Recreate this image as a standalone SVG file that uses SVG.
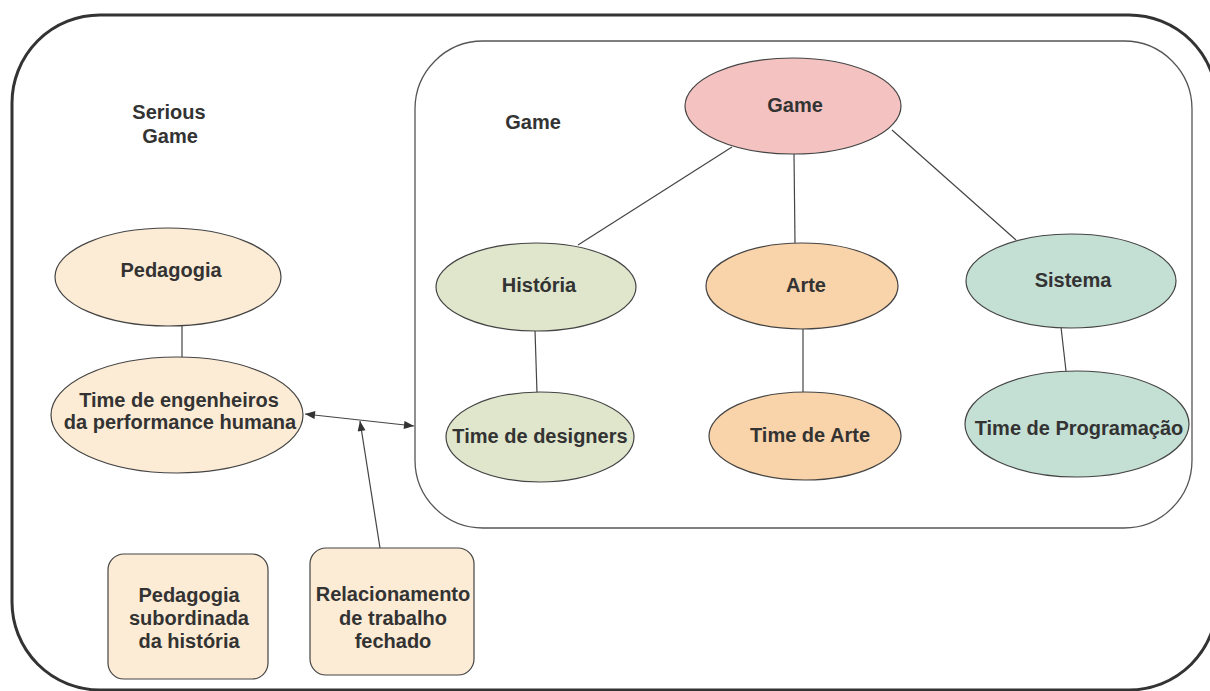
<svg xmlns="http://www.w3.org/2000/svg" width="1210" height="691" viewBox="0 0 1210 691">
  <style>
    .lbl { font-family: "Liberation Sans", Arial, sans-serif; font-size: 20px; font-weight: bold; fill: #333; text-anchor: middle; }
    .node { stroke: #444; stroke-width: 1.2; }
    .link { stroke: #444; stroke-width: 1.2; fill: none; }
    .pink { fill: #f4c3c1; }
    .sage { fill: #dfe6cc; }
    .apricot { fill: #f9d3a9; }
    .mint { fill: #c4dfd4; }
    .peach { fill: #fdecd5; }
  </style>
  <defs>
    <marker id="arrow" viewBox="0 0 10 8" refX="10" refY="4" markerWidth="11" markerHeight="8" markerUnits="userSpaceOnUse" orient="auto-start-reverse">
      <path d="M0,0 L10,4 L0,8 Z" fill="#333"/>
    </marker>
  </defs>

  <rect width="1210" height="691" fill="#fff"/>

  <!-- outer frame: Serious Game (right side runs just past the page edge) -->
  <g id="serious-game-frame">
    <rect x="12" y="15" width="1205" height="675" rx="88" ry="88" fill="none" stroke="#333" stroke-width="3"/>
    <text class="lbl" x="169" y="119">Serious</text>
    <text class="lbl" x="170" y="143">Game</text>
  </g>

  <!-- inner frame: Game -->
  <g id="game-frame">
    <rect x="415" y="41" width="777" height="487" rx="68" ry="68" fill="none" stroke="#555" stroke-width="1.3"/>
    <text class="lbl" x="533" y="129">Game</text>
  </g>

  <!-- connectors -->
  <g id="connectors">
    <line class="link" x1="732" y1="147" x2="578" y2="245"/>
    <line class="link" x1="794" y1="154" x2="795" y2="243"/>
    <line class="link" x1="892" y1="130" x2="1016" y2="240"/>
    <line class="link" x1="535" y1="330" x2="537" y2="393"/>
    <line class="link" x1="803" y1="329" x2="803" y2="392"/>
    <line class="link" x1="1061" y1="327" x2="1066" y2="371"/>
    <line class="link" x1="182" y1="326" x2="182" y2="357"/>
    <line class="link" x1="305" y1="414" x2="414" y2="426" marker-start="url(#arrow)" marker-end="url(#arrow)"/>
    <line class="link" x1="380" y1="548" x2="360" y2="421" marker-end="url(#arrow)"/>
  </g>

  <g id="n-game">
    <ellipse class="node pink" cx="793" cy="106" rx="108" ry="48"/>
    <text class="lbl" x="795" y="112">Game</text>
  </g>

  <g id="n-historia">
    <ellipse class="node sage" cx="536" cy="287" rx="100" ry="44"/>
    <text class="lbl" x="539" y="292">História</text>
  </g>

  <g id="n-arte">
    <ellipse class="node apricot" cx="802" cy="286" rx="96" ry="43"/>
    <text class="lbl" x="806" y="292">Arte</text>
  </g>

  <g id="n-sistema">
    <ellipse class="node mint" cx="1071" cy="281" rx="105" ry="47"/>
    <text class="lbl" x="1073" y="287">Sistema</text>
  </g>

  <g id="n-designers">
    <ellipse class="node sage" cx="540" cy="437" rx="94" ry="45"/>
    <text class="lbl" x="540" y="443">Time de designers</text>
  </g>

  <g id="n-time-arte">
    <ellipse class="node apricot" cx="805" cy="436" rx="96" ry="44"/>
    <text class="lbl" x="810" y="442">Time de Arte</text>
  </g>

  <g id="n-programacao">
    <ellipse class="node mint" cx="1077" cy="424" rx="112" ry="53"/>
    <text class="lbl" x="1079" y="435">Time de Programação</text>
  </g>

  <g id="n-pedagogia">
    <ellipse class="node peach" cx="168" cy="277" rx="113" ry="49"/>
    <text class="lbl" x="171" y="277">Pedagogia</text>
  </g>

  <g id="n-engenheiros">
    <ellipse class="node peach" cx="177" cy="415" rx="126" ry="58"/>
    <text class="lbl" x="179" y="407">Time de engenheiros</text>
    <text class="lbl" x="180" y="429">da performance humana</text>
  </g>

  <g id="n-subordinada">
    <rect class="node peach" x="108" y="554" width="160" height="125" rx="16" ry="16"/>
    <text class="lbl" x="189" y="602">Pedagogia</text>
    <text class="lbl" x="189" y="625">subordinada</text>
    <text class="lbl" x="189" y="648">da história</text>
  </g>

  <g id="n-relacionamento">
    <rect class="node peach" x="310" y="548" width="164" height="127" rx="16" ry="16"/>
    <text class="lbl" x="393" y="601">Relacionamento</text>
    <text class="lbl" x="393" y="625">de trabalho</text>
    <text class="lbl" x="393" y="648">fechado</text>
  </g>
</svg>
